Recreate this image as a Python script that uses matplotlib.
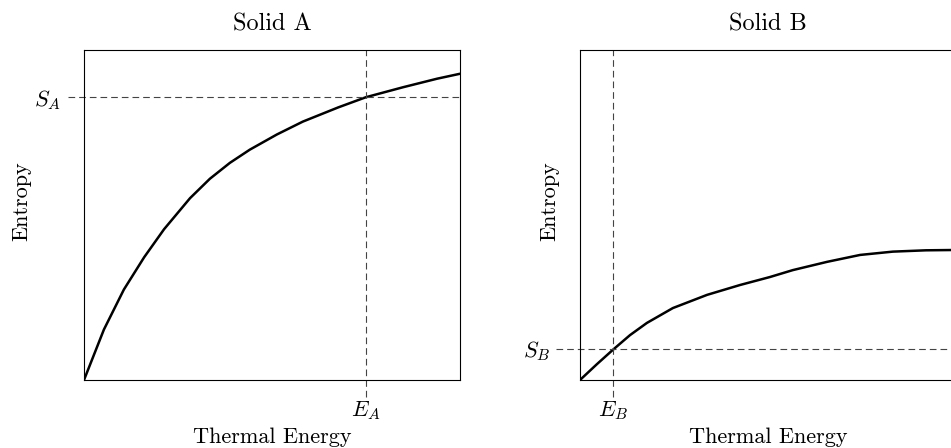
import numpy as np
import matplotlib
matplotlib.use("Agg")
import matplotlib.pyplot as plt

plt.rcParams['font.family'] = 'serif'
plt.rcParams['font.serif'] = ['cmr10', 'DejaVu Serif']
plt.rcParams['mathtext.fontset'] = 'cm'
plt.rcParams['axes.formatter.use_mathtext'] = True

# entropy curves (energy, entropy) in axis fractions
energy_a = [0.0, 0.053, 0.106, 0.160, 0.213, 0.282, 0.335, 0.388, 0.441,
            0.513, 0.582, 0.676, 0.750, 0.848, 0.939, 1.0]
entropy_a = [0.0, 0.153, 0.274, 0.372, 0.457, 0.551, 0.610, 0.658, 0.698,
             0.744, 0.783, 0.826, 0.857, 0.887, 0.913, 0.928]

energy_b = [0.0, 0.045, 0.088, 0.133, 0.178, 0.247, 0.338, 0.426, 0.505,
            0.566, 0.657, 0.745, 0.832, 0.92, 1.0]
entropy_b = [0.0, 0.048, 0.092, 0.136, 0.173, 0.218, 0.258, 0.288, 0.312,
             0.333, 0.358, 0.379, 0.389, 0.393, 0.394]

# marked equilibrium points
e_a, s_a = 0.750, 0.858
e_b, s_b = 0.087, 0.095

titles = ['Solid A', 'Solid B']
xticklabels = [r'$E_A$', r'$E_B$']
yticklabels = [r'$S_A$', r'$S_B$']

fig = plt.figure(figsize=(9.51, 4.48), dpi=100)
ax1 = fig.add_axes([84 / 951, 68 / 448, 376 / 951, 330 / 448])
ax2 = fig.add_axes([580 / 951, 68 / 448, 376 / 951, 330 / 448])

dash = (0, (6, 3.6))
panels = [
    (ax1, energy_a, entropy_a, e_a, s_a, 0.043, 16.5, -0.165),
    (ax2, energy_b, entropy_b, e_b, s_b, 0.064, 21.6, -0.082),
]

for i, (ax, x, y, e, s, hext, ypad, ylab_x) in enumerate(panels):
    ax.plot(x, y, color='black', lw=1.8, solid_capstyle='round',
            solid_joinstyle='round')
    ax.plot([-hext, 1.0], [s, s], color='#444444', lw=0.8, ls=dash, clip_on=False)
    ax.plot([e, e], [-0.052, 1.0], color='#444444', lw=0.8, ls=dash, clip_on=False)
    ax.set_xlim(0, 1)
    ax.set_ylim(0, 1)
    ax.set_xticks([e])
    ax.set_xticklabels([xticklabels[i]], fontsize=16)
    ax.set_yticks([s])
    ax.set_yticklabels([yticklabels[i]], fontsize=16)
    ax.tick_params(axis='x', length=0, pad=14)
    ax.tick_params(axis='y', length=0, pad=ypad)
    ax.set_title(titles[i], fontsize=17.5, pad=14)
    ax.set_xlabel('Thermal Energy', fontsize=16)
    ax.set_ylabel('Entropy', fontsize=16)
    ax.xaxis.set_label_coords(0.5, -0.173)
    ax.yaxis.set_label_coords(ylab_x, 0.542)
    ax.xaxis.label.set_va('center')
    ax.yaxis.label.set_va('center')

fig.savefig('out.png', dpi=100)
